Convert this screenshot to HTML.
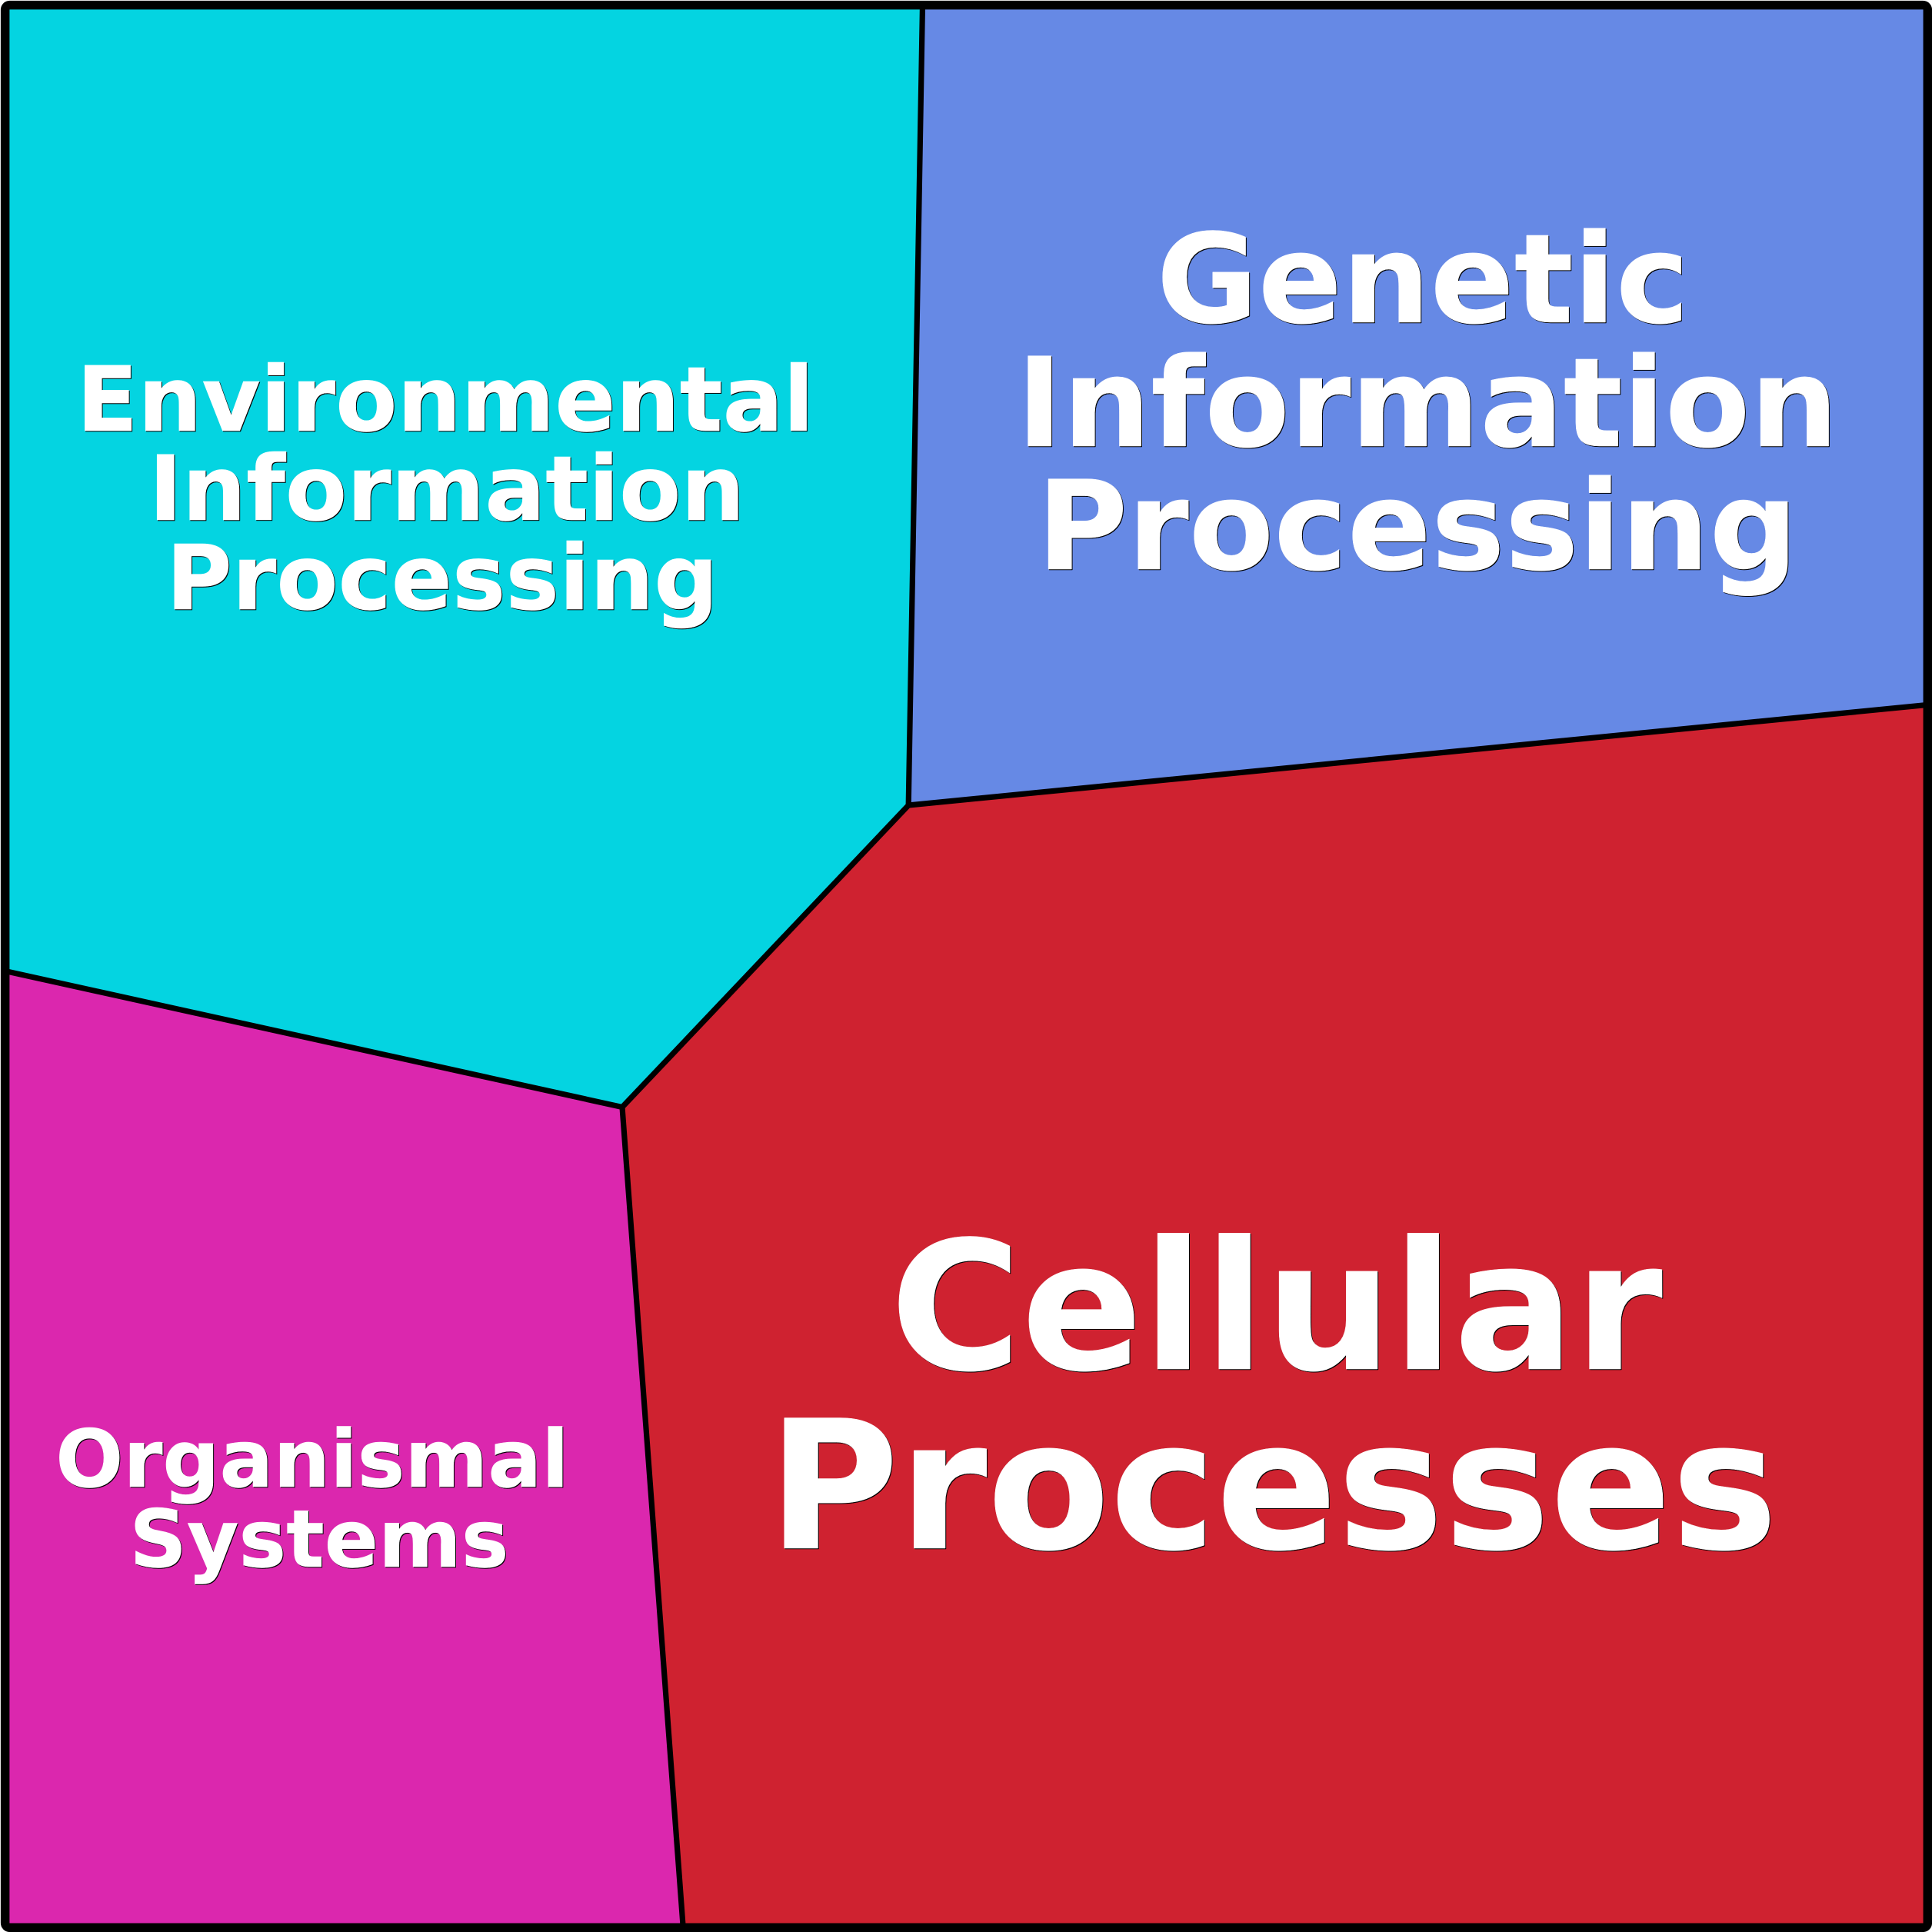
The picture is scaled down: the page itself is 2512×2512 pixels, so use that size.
<!DOCTYPE html>
<html><head><meta charset="utf-8"><style>html,body{margin:0;padding:0;background:#fff}svg{display:block}text{font-family:"DejaVu Sans",sans-serif;font-weight:700;fill:#fff;stroke:#fff;stroke-width:.5;text-anchor:middle}</style></head><body>
<svg width="2512" height="2512" viewBox="0 0 2512 2512" xmlns="http://www.w3.org/2000/svg">
<defs><filter id="s" filterUnits="userSpaceOnUse" x="0" y="0" width="2512" height="2512" color-interpolation-filters="sRGB"><feDropShadow dx="1" dy="1" stdDeviation="0" flood-color="#000"/></filter></defs>
<polygon points="6,6 1199.5,6 1181.2,1047 809,1439.5 6,1262.4" fill="#04d4e1"/>
<polygon points="1199.5,6 2506,6 2506,916.4 1181.2,1047" fill="#6689e5"/>
<polygon points="2506,916.4 2506,2506 888.2,2506 809,1439.5 1181.2,1047" fill="#cf2230"/>
<polygon points="6,1262.4 809,1439.5 888.2,2506 6,2506" fill="#db27ae"/>
<g fill="none" stroke="#000" stroke-width="7.2" stroke-linejoin="miter">
<polyline points="1199.5,6 1181.2,1047 2506,916.4"/>
<polyline points="1181.2,1047 809,1439.5 888.2,2506"/>
<polyline points="6,1262.4 809,1439.5"/>
</g>
<rect x="6.65" y="6.65" width="2499.65" height="2499.65" rx="6" fill="none" stroke="#000" stroke-width="11.5"/>
<g filter="url(#s)">
<g font-size="116.8"><text x="579" y="560">Environmental</text><text x="581" y="676">Information</text><text x="575" y="792">Processing</text></g>
<g font-size="161"><text x="1850" y="419">Genetic</text><text x="1856" y="580">Information</text><text x="1843" y="740">Processing</text></g>
<g font-size="232.5"><text x="1659.5" y="1780">Cellular</text><text x="1655" y="2013">Processes</text></g>
<g font-size="103.6"><text x="406" y="1933">Organismal</text><text x="415" y="2037">Systems</text></g>
</g>
</svg>
</body></html>
